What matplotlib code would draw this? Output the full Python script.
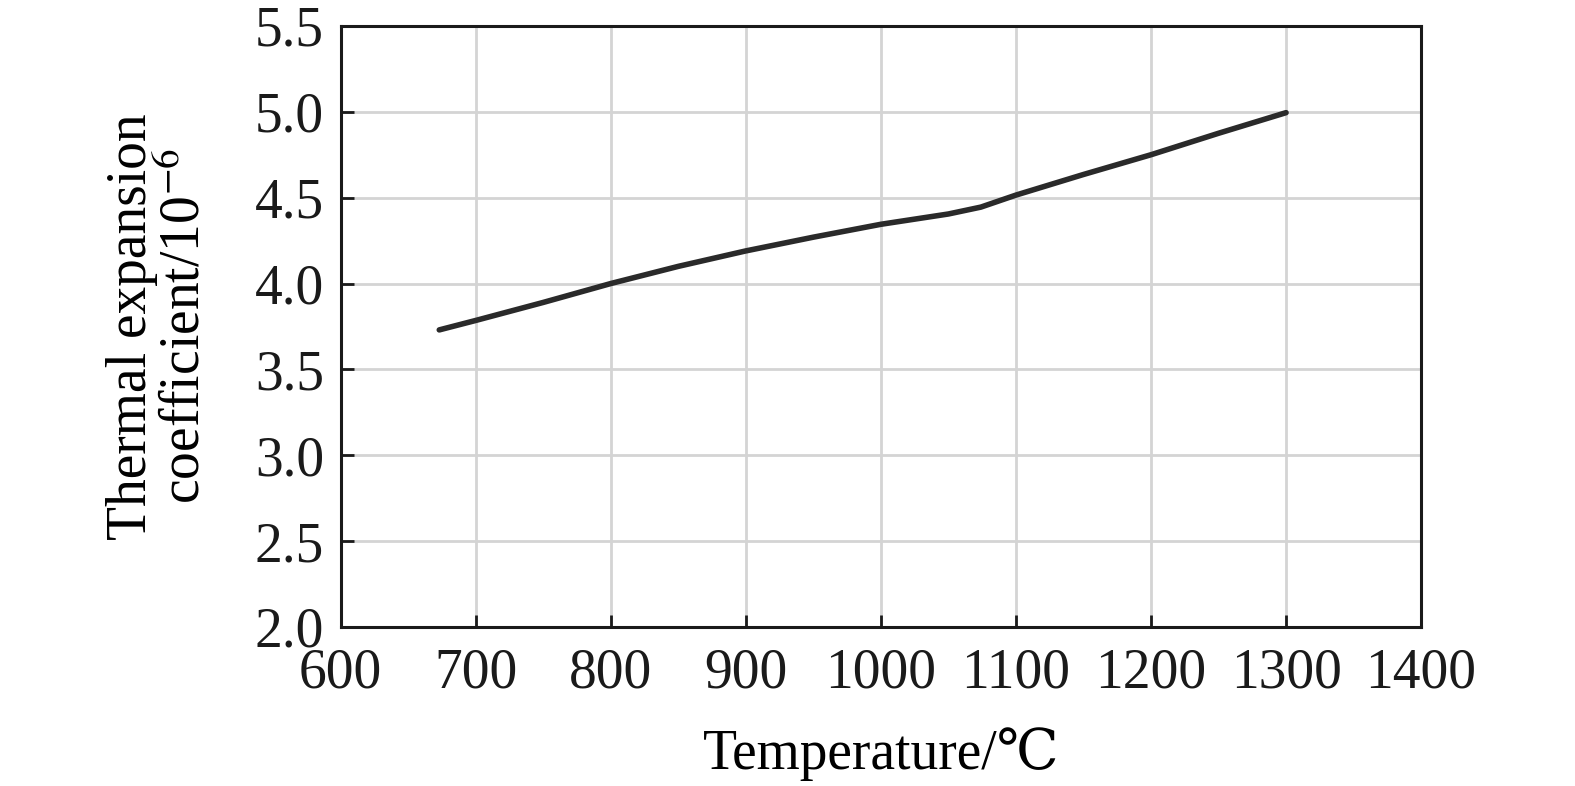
import numpy as np
import matplotlib.pyplot as plt

# Data
temperature = [673, 700, 750, 800, 850, 900, 950, 1000, 1050, 1074, 1100, 1150, 1200, 1250, 1300]
coefficient = [3.73, 3.785, 3.89, 4.0, 4.10, 4.19, 4.27, 4.345, 4.405, 4.445, 4.515, 4.635, 4.75, 4.875, 4.995]

x_ticks = [600, 700, 800, 900, 1000, 1100, 1200, 1300, 1400]
y_ticks = [2.0, 2.5, 3.0, 3.5, 4.0, 4.5, 5.0, 5.5]

plt.rcParams['font.family'] = ['Liberation Serif', 'STIXGeneral', 'DejaVu Serif']
plt.rcParams['mathtext.fontset'] = 'stix'

fig = plt.figure(figsize=(15.75, 7.86), dpi=100)
ax = fig.add_axes([0.2163, 0.2023, 0.686, 0.7647])

ax.plot(temperature, coefficient, color='#2a2a2a', linewidth=4, solid_capstyle='round', zorder=3)

ax.set_xlim(600, 1400)
ax.set_ylim(2.0, 5.5)
ax.set_xticks(x_ticks)
ax.set_yticks(y_ticks)
ax.set_yticklabels([f"{v:.1f}" for v in y_ticks])
ax.grid(True, color='#d4d4d4', linewidth=2)
ax.set_axisbelow(True)

for s in ax.spines.values():
    s.set_linewidth(2.2)
    s.set_color('#1a1a1a')

ax.tick_params(direction='in', length=9, width=2, labelsize=40, colors='#1a1a1a')
ax.tick_params(axis='x', pad=15)
ax.tick_params(axis='y', pad=12)

ax.set_xlabel('Temperature/℃', fontsize=40, labelpad=20)
ax.set_ylabel('Thermal expansion\ncoefficient/10$^{-6}$', fontsize=40, labelpad=32, linespacing=1.0)

fig.savefig('out.png', dpi=100)
